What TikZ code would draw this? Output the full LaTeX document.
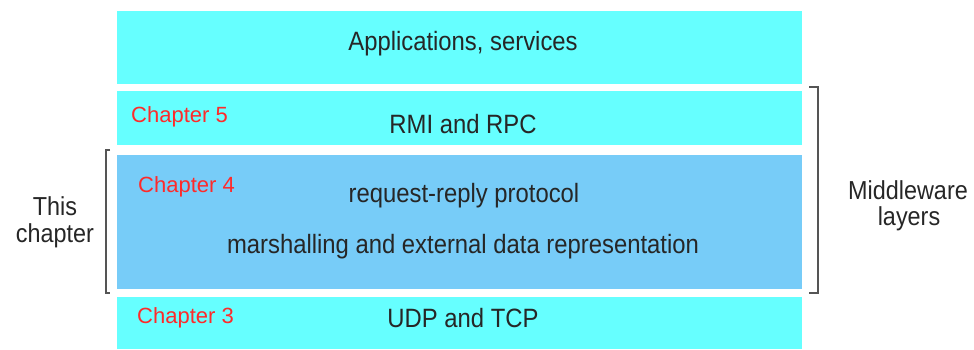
\documentclass[tikz,border=0pt]{standalone}
\usepackage{fontspec}
\setmainfont{Liberation Sans}
\newfontfamily\layerfont[FakeStretch=0.9]{Liberation Sans}
\definecolor{layercyan}{HTML}{66FFFF}
\definecolor{layerblue}{HTML}{77CCF8}
\definecolor{chapred}{HTML}{FF2A2A}
\definecolor{inkgrey}{HTML}{262626}
\definecolor{bracketgrey}{HTML}{555555}
\begin{document}
\begin{tikzpicture}[x=1pt,y=-1pt,
  layer/.style={anchor=north west, inner sep=0pt, outer sep=0pt, draw=none, minimum width=685pt},
  layertext/.style={anchor=base, inner sep=0pt, text=inkgrey, font=\layerfont\fontsize{26.5}{30}\selectfont},
  chaptext/.style={anchor=base west, inner sep=0pt, text=chapred, font=\fontsize{22}{26}\selectfont},
  sidetext/.style={anchor=base, inner sep=0pt, text=inkgrey, font=\layerfont\fontsize{26}{30}\selectfont},
  bracket/.style={draw=bracketgrey, line width=1.4pt}]
\useasboundingbox (0,0) rectangle (974,349);

% protocol layers, top to bottom
\node[layer, fill=layercyan, minimum height=73pt] (apps) at (117,11) {};
\node[layer, fill=layercyan, minimum height=54pt] (rmi) at (117,91) {};
\node[layer, fill=layerblue, minimum height=134pt] (rr) at (117,155) {};
\node[layer, fill=layercyan, minimum height=52pt] (udp) at (117,297) {};

% layer labels
\node[layertext] (appsl) at (463,50) {Applications, services};
\node[layertext] (rmil) at (463,133) {RMI and RPC};
\node[layertext] (rrl) at (464,202) {request-reply protocol};
\node[layertext] (marl) at (463,253) {marshalling and external data representation};
\node[layertext] (udpl) at (463,327) {UDP and TCP};

% chapter references
\node[chaptext] (ch5) at (131,122) {Chapter 5};
\node[chaptext] (ch4) at (138,192) {Chapter 4};
\node[chaptext] (ch3) at (137,323) {Chapter 3};

% left bracket: this chapter
\coordinate (lt) at (110,150);
\coordinate (lb) at (110,293);
\draw[bracket] (lt) -- ++(-4,0) |- (lb);
\node[sidetext] (this1) at (55,215) {This};
\node[sidetext] (this2) at (55,242) {chapter};

% right bracket: middleware layers
\coordinate (rt) at (809,87);
\coordinate (rb) at (809,293);
\draw[bracket] (rt) -- ++(9,0) |- (rb);
\node[sidetext] (mw1) at (908,199) {Middleware};
\node[sidetext] (mw2) at (909,225) {layers};
\end{tikzpicture}
\end{document}
